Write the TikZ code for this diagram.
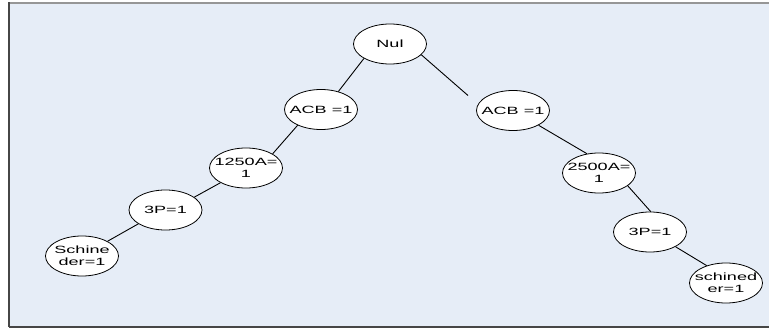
\documentclass[tikz,border=0pt]{standalone}
\usepackage{fontspec}
\newfontfamily\widefont[FakeStretch=1.72]{Liberation Sans}
\usetikzlibrary{shapes.geometric}
\definecolor{bgblue}{RGB}{230,237,247}
\definecolor{topgray}{RGB}{150,150,150}
\definecolor{edgedark}{RGB}{70,70,70}
\tikzset{
  tnode/.style={ellipse, draw=black, fill=white, line width=0.8pt,
    minimum width=73pt, minimum height=40pt, inner xsep=-40pt, inner ysep=-20pt,
    align=center, font=\widefont\fontsize{10.5}{12.3}\selectfont},
  link/.style={draw=black, line width=0.9pt}
}
\begin{document}
\begin{tikzpicture}[x=1pt,y=-1pt]
\useasboundingbox (0,0) rectangle (769,331);
\fill[white] (0,0) rectangle (769,331);
\fill[bgblue] (8.5,3) rectangle (769,327);
\draw[topgray, line width=1.2pt] (8.5,3) -- (769,3);
\draw[edgedark, line width=2pt] (8.5,2.4) -- (8.5,327.5);
\draw[edgedark, line width=1.5pt] (8.5,327) -- (769,327);

\node[tnode] (Nul)   at (390,44)    {Nul};
\node[tnode] (ACBL)  at (321,109.5) {ACB =1};
\node[tnode] (ACBR)  at (513,110.5) {ACB =1};
\node[tnode] (N1250) at (246,168)   {1250A=\\1};
\node[tnode] (N2500) at (599,173)   {2500A=\\1};
\node[tnode] (P3L)   at (165.5,210) {3P=1};
\node[tnode] (P3R)   at (650,232)   {3P=1};
\node[tnode] (SchL)  at (82,256)    {Schine\\der=1};
\node[tnode] (SchR)  at (726,283)   {schined\\er=1};
\coordinate (gap) at (468,95.5);

\draw[link] (Nul.209) -- (ACBL.46);
\draw[link] (Nul.341) -- (gap);
\draw[link] (ACBL.214) -- (N1250.28);
\draw[link] (N1250.210) -- (P3L.24);
\draw[link] (P3L.207) -- (SchL.30);
\draw[link] (ACBR.330) -- (N2500.122);
\draw[link] (N2500.336) -- (P3R.88);
\draw[link] (P3R.330) -- (SchR.138);
\end{tikzpicture}
\end{document}
